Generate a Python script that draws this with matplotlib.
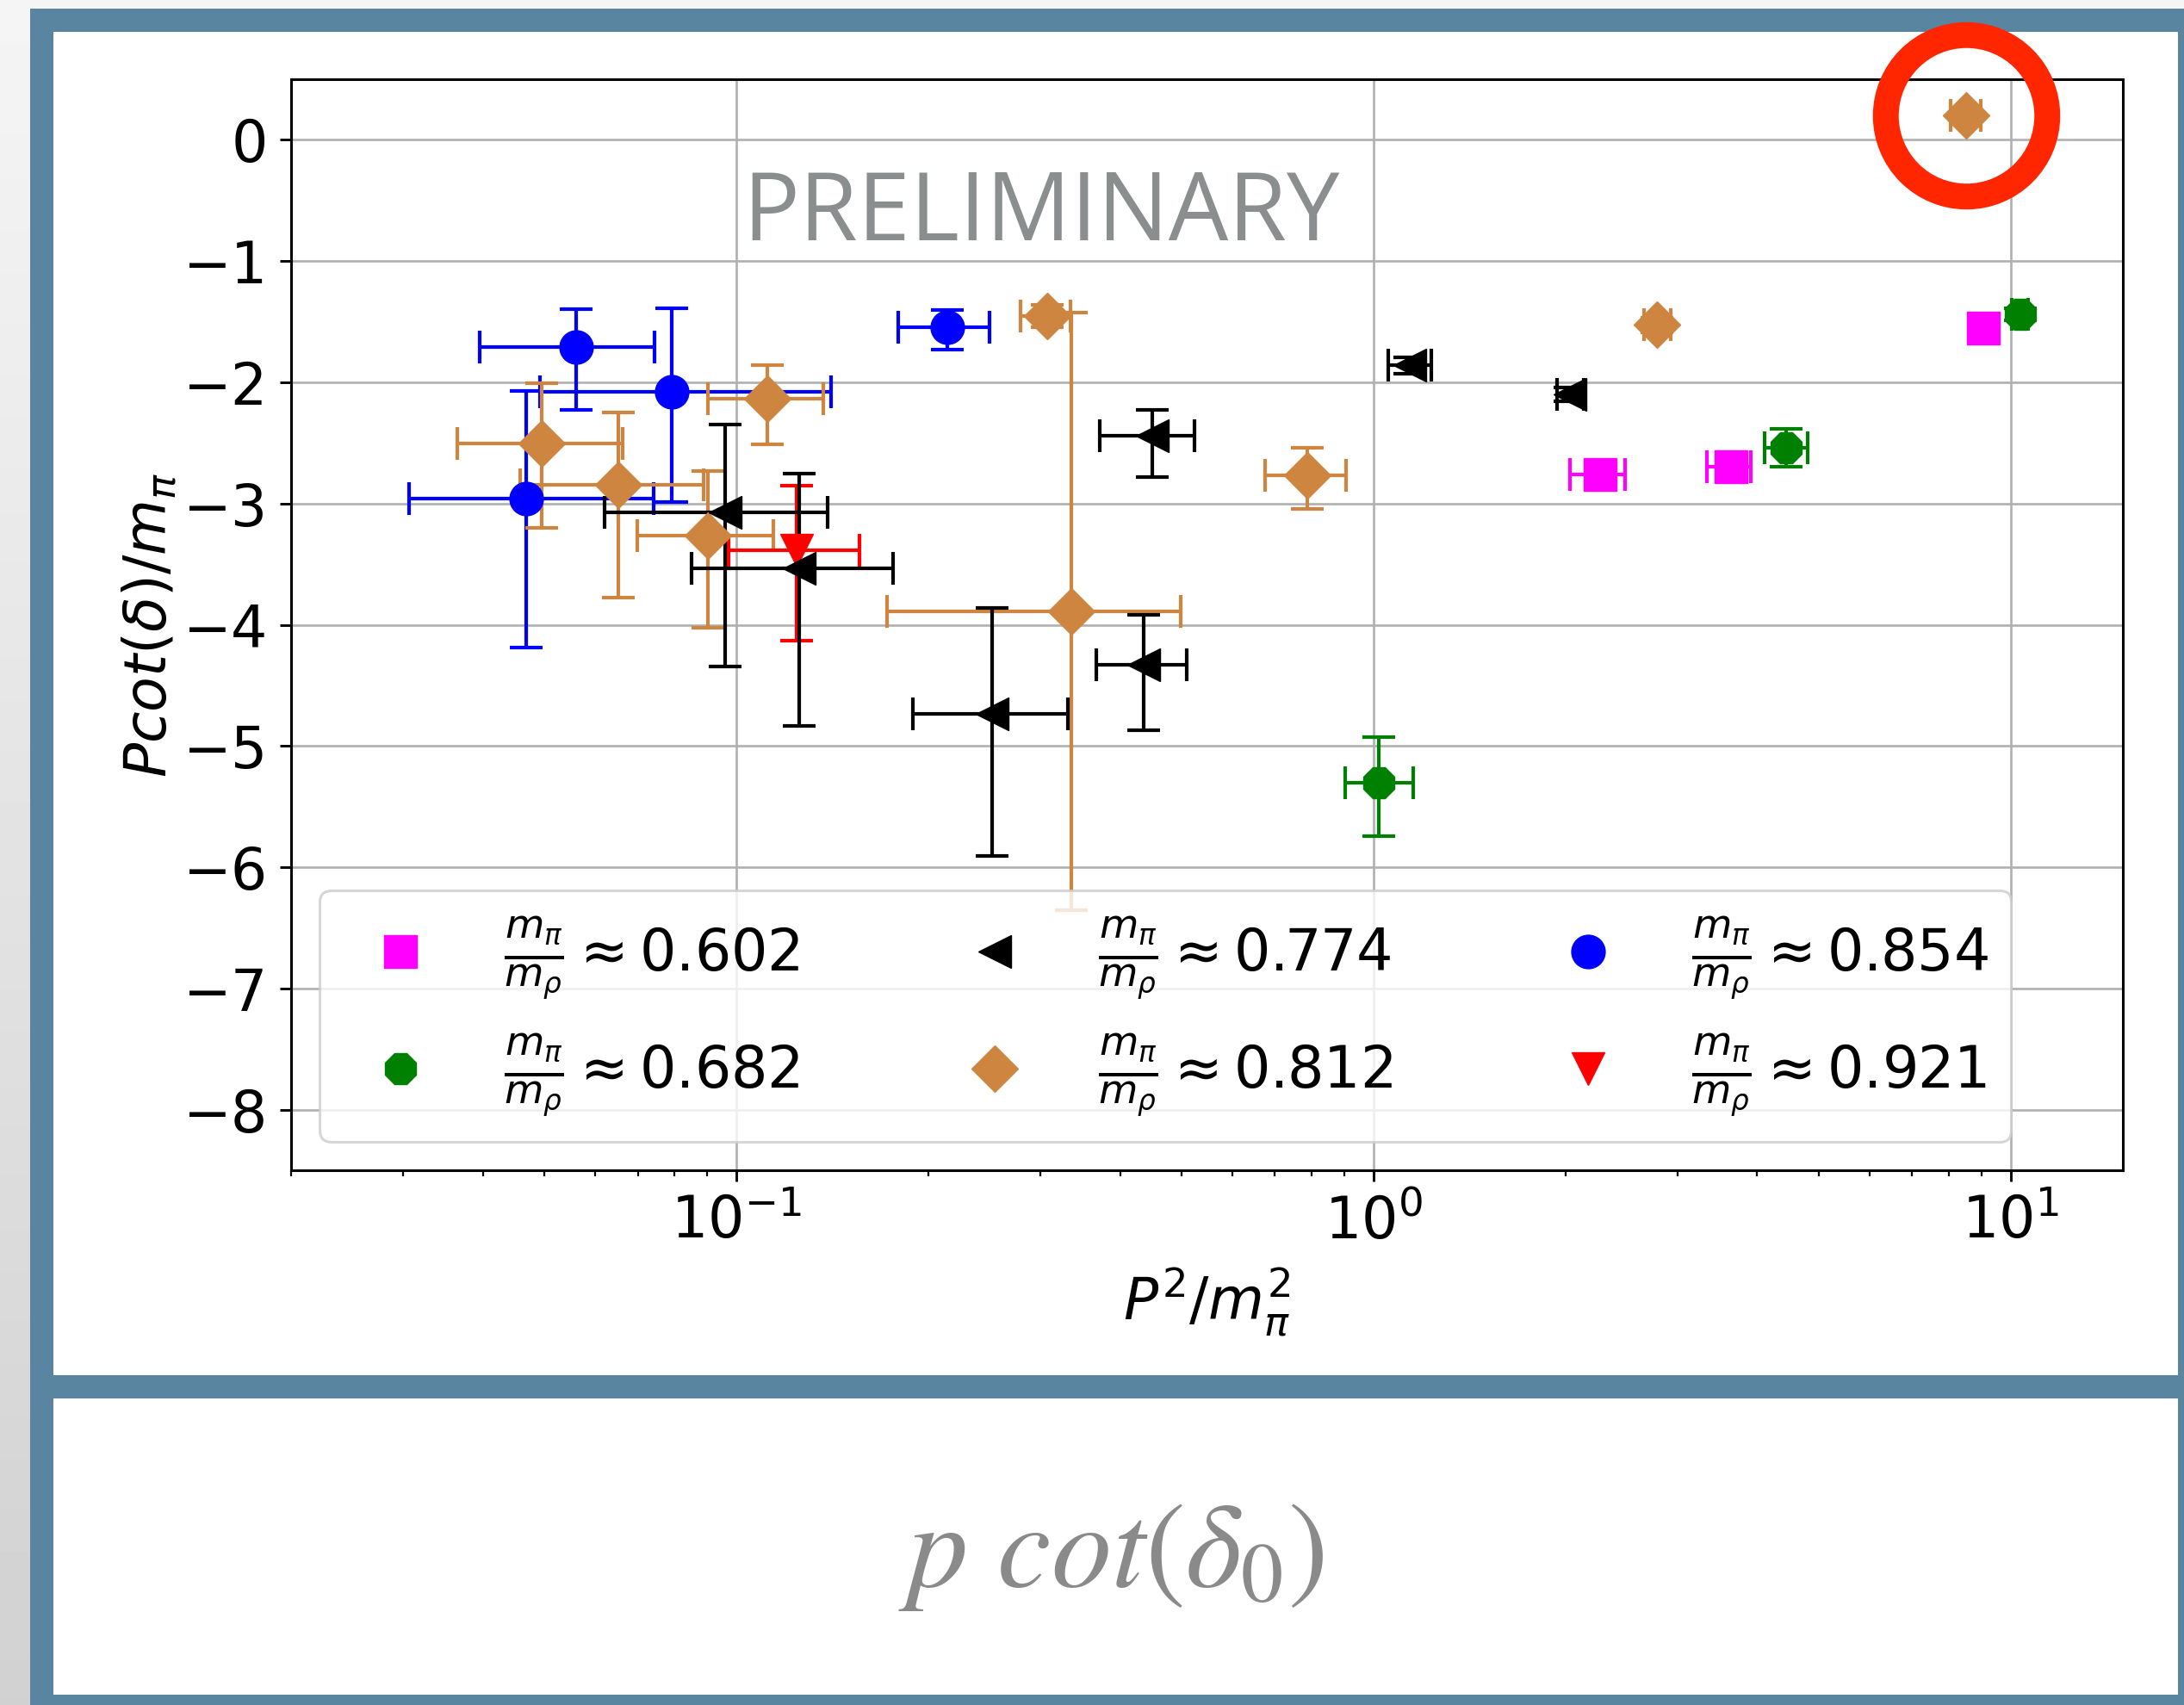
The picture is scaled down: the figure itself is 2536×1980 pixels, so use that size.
import numpy as np
import matplotlib
matplotlib.use('Agg')
import matplotlib.pyplot as plt
from matplotlib.patches import Rectangle

W, H = 2536, 1980

# m_pi/m_rho ~ 0.602
x_602 = [2.27, 3.64, 9.05]
y_602 = [-2.76, -2.70, -1.555]
xlo_602 = [0.235, 0.30, 0.25]
xhi_602 = [0.213, 0.27, 0.25]
ylo_602 = [0.07, 0.07, 0.05]
yhi_602 = [0.07, 0.07, 0.05]

# m_pi/m_rho ~ 0.682
x_682 = [1.02, 4.44, 10.35]
y_682 = [-5.30, -2.54, -1.44]
xlo_682 = [0.117, 0.33, 0.30]
xhi_682 = [0.135, 0.36, 0.30]
ylo_682 = [0.447, 0.154, 0.05]
yhi_682 = [0.374, 0.157, 0.05]

# m_pi/m_rho ~ 0.774
x_774 = [0.0961, 0.1253, 0.2519, 0.4356, 0.449, 1.141, 2.035]
y_774 = [-3.075, -3.537, -4.732, -4.330, -2.441, -1.856, -2.100]
xlo_774 = [0.034, 0.0404, 0.0627, 0.068, 0.077, 0.086, 0.093]
xhi_774 = [0.0429, 0.0506, 0.0795, 0.073, 0.075, 0.09, 0.10]
ylo_774 = [1.267, 1.295, 1.172, 0.540, 0.338, 0.071, 0.06]
yhi_774 = [0.727, 0.781, 0.868, 0.414, 0.213, 0.064, 0.06]

# m_pi/m_rho ~ 0.812
x_812 = [0.0495, 0.0653, 0.0902, 0.1117, 0.3075, 0.3355, 0.786, 2.786, 8.50]
y_812 = [-2.502, -2.843, -3.265, -2.136, -1.454, -3.892, -2.768, -1.525, 0.204]
xlo_812 = [0.0130, 0.0196, 0.0204, 0.0214, 0.0285, 0.1631, 0.110, 0.126, 0.46]
xhi_812 = [0.0168, 0.0234, 0.0240, 0.0251, 0.0272, 0.1620, 0.120, 0.139, 0.47]
ylo_812 = [0.696, 0.935, 0.757, 0.378, 0.094, 2.462, 0.277, 0.06, 0.05]
yhi_812 = [0.497, 0.592, 0.533, 0.275, 0.090, 2.467, 0.230, 0.06, 0.05]

# m_pi/m_rho ~ 0.854
x_854 = [0.0468, 0.0561, 0.0792, 0.2143]
y_854 = [-2.957, -1.707, -2.081, -1.548]
xlo_854 = [0.0162, 0.0166, 0.0301, 0.0346]
xhi_854 = [0.0273, 0.0183, 0.0616, 0.0353]
ylo_854 = [1.231, 0.521, 0.907, 0.185]
yhi_854 = [0.883, 0.313, 0.694, 0.147]

# m_pi/m_rho ~ 0.921
x_921 = [0.1243]
y_921 = [-3.383]
xlo_921 = [0.0272]
xhi_921 = [0.0316]
ylo_921 = [0.746]
yhi_921 = [0.528]

ratios = ['0.602', '0.682', '0.774', '0.812', '0.854', '0.921']

plt.rcParams['font.size'] = 48
plt.rcParams['mathtext.fontset'] = 'dejavusans'

fig = plt.figure(figsize=(W / 100, H / 100), dpi=100)

# slide background, frame and panels
bg = fig.add_axes([0, 0, 1, 1], zorder=-10)
bg.imshow(np.linspace(0.96, 0.82, 200)[:, None], cmap='gray', vmin=0, vmax=1,
          aspect='auto', extent=[0, 1, 0, 1])
bg.axis('off')


def px_rect(x0, y0, x1, y1, color, z):
    r = Rectangle((x0 / W, 1 - y1 / H), (x1 - x0) / W, (y1 - y0) / H,
                  transform=fig.transFigure, facecolor=color, edgecolor='none', zorder=z)
    fig.add_artist(r)


px_rect(35, 10, 2536, 1980, '#5a85a0', -5)
px_rect(62, 37, 2529, 1597, 'white', -4)
px_rect(62, 1624, 2529, 1968, 'white', -4)

ax = fig.add_axes([338 / W, 1 - 1359 / H, (2465 - 338) / W, (1359 - 92) / H])

style = dict(linestyle='none', ms=28, capsize=13.5, elinewidth=3, capthick=3)

c854 = ax.errorbar(x_854, y_854, xerr=[xlo_854, xhi_854], yerr=[ylo_854, yhi_854],
                   fmt='o', color='blue', **style)
c812 = ax.errorbar(x_812, y_812, xerr=[xlo_812, xhi_812], yerr=[ylo_812, yhi_812],
                   fmt='D', color='peru', **style)
c921 = ax.errorbar(x_921, y_921, xerr=[xlo_921, xhi_921], yerr=[ylo_921, yhi_921],
                   fmt='v', color='red', **style)
c774 = ax.errorbar(x_774, y_774, xerr=[xlo_774, xhi_774], yerr=[ylo_774, yhi_774],
                   fmt='<', color='black', **style)
c602 = ax.errorbar(x_602, y_602, xerr=[xlo_602, xhi_602], yerr=[ylo_602, yhi_602],
                   fmt='s', color='magenta', **style)
c682 = ax.errorbar(x_682, y_682, xerr=[xlo_682, xhi_682], yerr=[ylo_682, yhi_682],
                   fmt='8', color='green', **style)

# red ring around the outlier
ax.plot(x_812[-1], y_812[-1], 'o', ms=135, mfc='none', mec='#ff2600', mew=21.6,
        clip_on=False, zorder=10)

ax.set_xscale('log')
ax.set_xlim(0.02, 15)
ax.set_ylim(-8.5, 0.5)
ax.set_yticks(range(-8, 1))
ax.grid(True, which='major', color='#b0b0b0', lw=1.9)
for s in ax.spines.values():
    s.set_linewidth(2.2)
ax.tick_params(which='major', length=9.4, width=2.1, pad=10, labelsize=48)
ax.tick_params(which='minor', length=5, width=1.6)

ax.set_xlabel(r'$P^2/m_\pi^2$', fontsize=48, labelpad=12)
ax.set_ylabel(r'$Pcot(\delta)/m_\pi$', fontsize=48)

handles = [c602[0], c682[0], c774[0], c812[0], c854[0], c921[0]]
labels = [r'$\frac{m_\pi}{m_\rho} \approx ' + r + '$' for r in ratios]
leg = ax.legend(handles, labels, ncol=3, loc='lower left', fontsize=48,
                columnspacing=2.4)
leg.get_frame().set_linewidth(2.2)

fig.text(862 / W, 1 - 279 / H, 'PRELIMINARY', family='Open Sans', fontsize=79,
         color='#8a8e8e', ha='left', va='baseline')

fig.text(1290 / W, 1 - 1842 / H, r'$p\ cot(\delta_0)$', math_fontfamily='stix',
         fontsize=101, color='#8a8a8a', ha='center', va='baseline')

fig.savefig('out.png', dpi=100)
